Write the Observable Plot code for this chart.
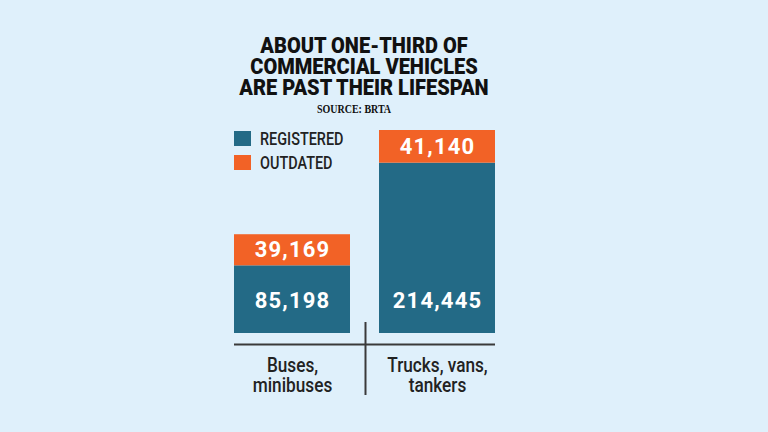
<!DOCTYPE html>
<html>
<head>
<meta charset="utf-8">
<script src="https://cdn.jsdelivr.net/npm/d3@7"></script>
<script src="https://cdn.jsdelivr.net/npm/@observablehq/plot@0.6"></script>
<style>
  html, body { margin: 0; padding: 0; background: #dff0fb; }
  #wrap { position: relative; width: 768px; height: 432px; background: #dff0fb; overflow: hidden; }
  #title { position: absolute; left: 0; top: 35px; width: 728px; text-align: center;
    font-family: Roboto, sans-serif; font-weight: 900; font-size: 22px; line-height: 21px; color: #111; }
  #title div { transform: scaleX(0.91); transform-origin: 50% 50%; white-space: nowrap; }
  #source { position: absolute; left: 0; top: 101px; width: 708px; text-align: center;
    font-family: "Liberation Serif", "DejaVu Serif", serif; font-weight: 700; font-size: 13.5px; line-height: 15px; color: #111;
    transform: scaleX(0.74); transform-origin: 354px 50%; white-space: nowrap; }
  #legend { position: absolute; left: 234px; top: 126px;
    font-family: Roboto, sans-serif; font-weight: 500; font-size: 19px; color: #222; }
  .item { display: flex; align-items: center; height: 24px; }
  .sw { width: 17px; height: 15px; margin-right: 9px; flex: none; }
  .lbl { display: inline-block; transform: scaleX(0.76); transform-origin: 0 50%; white-space: nowrap; }
  #chart { position: absolute; left: 0; top: 118px; }
</style>
</head>
<body>
<div id="wrap">
  <div id="title"></div>
  <div id="source"></div>
  <div id="legend"></div>
  <div id="chart"></div>
</div>
<script>
const titleLines = ["ABOUT ONE-THIRD OF", "COMMERCIAL VEHICLES", "ARE PAST THEIR LIFESPAN"];
const sourceText = "SOURCE: BRTA";
const categories = ["Buses,\nminibuses", "Trucks, vans,\ntankers"];
const series = ["REGISTERED", "OUTDATED"];
const colors = ["#236a86", "#f26226"];
const registered = [85198, 214445];
const outdated = [39169, 41140];

document.getElementById("title").innerHTML = titleLines.map(t => `<div>${t}</div>`).join("");
document.getElementById("source").textContent = sourceText;
document.getElementById("legend").innerHTML = series.map((s, i) =>
  `<div class="item"><div class="sw" style="background:${colors[i]}"></div><span class="lbl">${s}</span></div>`).join("");

const rows = categories.flatMap((c, i) => [
  {cat: c, series: series[0], value: registered[i], lo: 0, hi: registered[i]},
  {cat: c, series: series[1], value: outdated[i], lo: registered[i], hi: registered[i] + outdated[i]}
]);
const maxTotal = d3.max(categories, (c, i) => registered[i] + outdated[i]);
const fmt = d3.format(",");

const chart = Plot.plot({
  width: 768,
  height: 314,
  marginLeft: 234,
  marginRight: 273,
  marginTop: 12,
  marginBottom: 37,
  style: {background: "transparent", overflow: "visible"},
  x: {domain: categories, paddingInner: 0.2, paddingOuter: 0, axis: null},
  y: {domain: [0, maxTotal], range: [215, 12], axis: null},
  color: {domain: series, range: colors},
  marks: [
    Plot.barY(rows, {x: "cat", y1: "lo", y2: "hi", fill: "series"}),
    Plot.text(rows.filter(d => d.series === series[1]), {
      x: "cat", y: d => (d.lo + d.hi) / 2, text: d => fmt(d.value),
      fill: "white", fontSize: 22, fontWeight: 700, fontFamily: "Roboto, sans-serif"
    }),
    Plot.text(rows.filter(d => d.series === series[0]), {
      x: "cat", y: () => 0, dy: -33, text: d => fmt(d.value),
      fill: "white", fontSize: 22, fontWeight: 700, fontFamily: "Roboto, sans-serif"
    }),
    Plot.ruleY([0], {dy: 11, stroke: "#3a3a3a", strokeWidth: 2}),
    Plot.ruleX([categories[1]], {x: d => d, dx: -72, insetTop: 192, stroke: "#3a3a3a", strokeWidth: 2}),
    Plot.text(categories, {
      x: d => d, y: () => 0, dy: 42, text: d => d, lineAnchor: "middle", lineHeight: 0.98,
      fill: "#222", fontSize: 21, fontWeight: 500, fontFamily: "Roboto, sans-serif"
    })
  ]
});
// letter spacing for the white value labels (DIN-like look)
d3.select(chart).selectAll('g[fill="white"] text').style("letter-spacing", "1.2px");
// condense the category labels horizontally
d3.select(chart).selectAll('g[fill="#222"] text').each(function() {
  const t = this.getAttribute("transform") || "";
  this.setAttribute("transform", t + " scale(0.82,1)");
});
document.getElementById("chart").appendChild(chart);
</script>
</body>
</html>
